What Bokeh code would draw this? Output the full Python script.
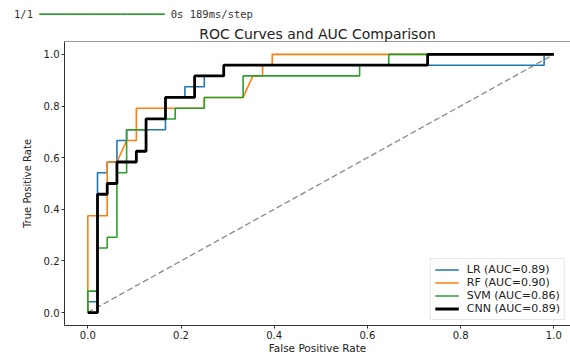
from bokeh.plotting import figure
from bokeh.layouts import column
from bokeh.models import Range1d, FixedTicker, Legend, LegendItem, Span, NumeralTickFormatter, Div
from bokeh.embed import file_html
from bokeh.resources import INLINE

# ---- data ----
lr_fpr = [0, 0, 0.0208, 0.0208, 0.0417, 0.0417, 0.0625, 0.0625, 0.0833, 0.0833, 0.1667, 0.1667,
          0.2083, 0.2083, 0.25, 0.25, 0.2917, 0.2917, 0.9792, 0.9792, 1.0]
lr_tpr = [0, 0.0417, 0.0417, 0.5417, 0.5417, 0.5833, 0.5833, 0.6667, 0.6667, 0.7083, 0.7083, 0.8333,
          0.8333, 0.875, 0.875, 0.9167, 0.9167, 0.9583, 0.9583, 1.0, 1.0]

rf_fpr = [0, 0, 0.0417, 0.0417, 0.0625, 0.0833, 0.1042, 0.1042, 0.25, 0.25, 0.3333, 0.3542,
          0.375, 0.375, 0.3958, 0.3958, 1.0]
rf_tpr = [0, 0.375, 0.375, 0.5833, 0.5833, 0.6667, 0.6667, 0.7917, 0.7917, 0.8333, 0.8333, 0.9167,
          0.9167, 0.9583, 0.9583, 1.0, 1.0]

svm_fpr = [0, 0, 0.0208, 0.0208, 0.0417, 0.0417, 0.0625, 0.0625, 0.0833, 0.0833, 0.125, 0.125,
           0.1875, 0.1875, 0.25, 0.25, 0.3333, 0.3333, 0.5833, 0.5833, 0.6458, 0.6458, 1.0]
svm_tpr = [0, 0.0833, 0.0833, 0.25, 0.25, 0.2917, 0.2917, 0.5417, 0.5417, 0.7083, 0.7083, 0.75,
           0.75, 0.7917, 0.7917, 0.8333, 0.8333, 0.9167, 0.9167, 0.9583, 0.9583, 1.0, 1.0]

cnn_fpr = [0, 0.0208, 0.0208, 0.0417, 0.0417, 0.0625, 0.0625, 0.1042, 0.1042, 0.125, 0.125,
           0.1667, 0.1667, 0.2292, 0.2292, 0.2917, 0.2917, 0.7292, 0.7292, 1.0]
cnn_tpr = [0, 0, 0.4583, 0.4583, 0.5, 0.5, 0.5833, 0.5833, 0.625, 0.625, 0.75, 0.75, 0.8333,
           0.8333, 0.9167, 0.9167, 0.9583, 0.9583, 1.0, 1.0]

chance_x = [0, 1]
chance_y = [0, 1]

model_labels = ["LR (AUC=0.89)", "RF (AUC=0.90)", "SVM (AUC=0.86)", "CNN (AUC=0.89)"]
tick_values = [0.0, 0.2, 0.4, 0.6, 0.8, 1.0]

title_text = "ROC Curves and AUC Comparison"
x_label = "False Positive Rate"
y_label = "True Positive Rate"
progress_parts = ["1/1", "\u2501" * 20, "0s 189ms/step"]

# ---- layout constants ----
FONT = "DejaVu Sans"
MONO = "DejaVu Sans Mono"
W = 570
DIV_H = 22
H = 356 - DIV_H
LEFT, TOP = 64, 41 - DIV_H
PX_PER_X = 466.0

# progress line (keras output) above the chart
div = Div(
    text=(f'{progress_parts[0]}&nbsp;'
          f'<span style="color:#3a9a3a; font-size:10.4px">{progress_parts[1]}</span>'
          f'&nbsp;{progress_parts[2]}'),
    width=W, height=DIV_H,
    styles={"font-family": MONO, "font-size": "10.5px", "color": "#333333",
            "padding-left": "14px", "padding-top": "8px", "line-height": "12px",
            "white-space": "pre", "margin": "0", "box-sizing": "border-box"},
)

p = figure(width=W, height=H, output_backend="svg", toolbar_location=None,
           x_range=Range1d(-0.05, -0.05 + (W - LEFT) / PX_PER_X), y_range=Range1d(-0.05, 1.05),
           min_border_left=LEFT, min_border_right=0, min_border_top=TOP, min_border_bottom=5)
p.outline_line_color = None
p.grid.visible = False
p.background_fill_color = "white"
p.border_fill_color = "white"

p.title.text = title_text
p.title.align = "center"
p.title.text_font = FONT
p.title.text_font_size = "14px"
p.title.text_font_style = "normal"
p.title.text_color = "#222222"
p.title.standoff = 0
p.title.offset = 3

for ax in (p.xaxis[0], p.yaxis[0]):
    ax.ticker = FixedTicker(ticks=tick_values)
    ax.formatter = NumeralTickFormatter(format="0.0")
    ax.axis_line_color = "#333333"
    ax.major_tick_line_color = "#333333"
    ax.major_tick_out = 3
    ax.major_tick_in = 0
    ax.minor_tick_line_color = None
    ax.major_label_text_font = FONT
    ax.major_label_text_font_size = "10px"
    ax.major_label_text_color = "#222222"
    ax.axis_label_text_font = FONT
    ax.axis_label_text_font_style = "normal"
    ax.axis_label_text_color = "#222222"
    ax.major_label_standoff = 2

p.xaxis.axis_label = x_label
p.xaxis.axis_label_text_font_size = "10.5px"
p.xaxis.axis_label_standoff = 0
p.yaxis.axis_label = y_label
p.yaxis.axis_label_text_font_size = "10px"
p.yaxis.axis_label_standoff = 8

# top spine
p.add_layout(Span(location=1.05, dimension="width", line_color="#333333", line_width=1))

# chance line
p.line(chance_x, chance_y, line_color="#888888", line_dash="6 3", line_width=1.3)

r_lr = p.line(lr_fpr, lr_tpr, line_color="#1f77b4", line_width=1.6)
r_rf = p.line(rf_fpr, rf_tpr, line_color="#ff7f0e", line_width=1.6)
r_svm = p.line(svm_fpr, svm_tpr, line_color="#2ca02c", line_width=1.6)
r_cnn = p.line(cnn_fpr, cnn_tpr, line_color="black", line_width=2.8)

legend = Legend(items=[LegendItem(label=lab, renderers=[r]) for lab, r in
                       zip(model_labels, [r_lr, r_rf, r_svm, r_cnn])],
                location="bottom_right", margin=5, padding=4, spacing=0,
                glyph_width=24, glyph_height=11, label_height=11, label_standoff=8,
                label_text_font=FONT, label_text_font_size="11px", label_text_color="#222222",
                border_line_color="#cccccc", background_fill_alpha=0.85)
p.add_layout(legend)

layout = column(div, p, spacing=0)
open("out.html", "w").write(file_html(layout, INLINE))
